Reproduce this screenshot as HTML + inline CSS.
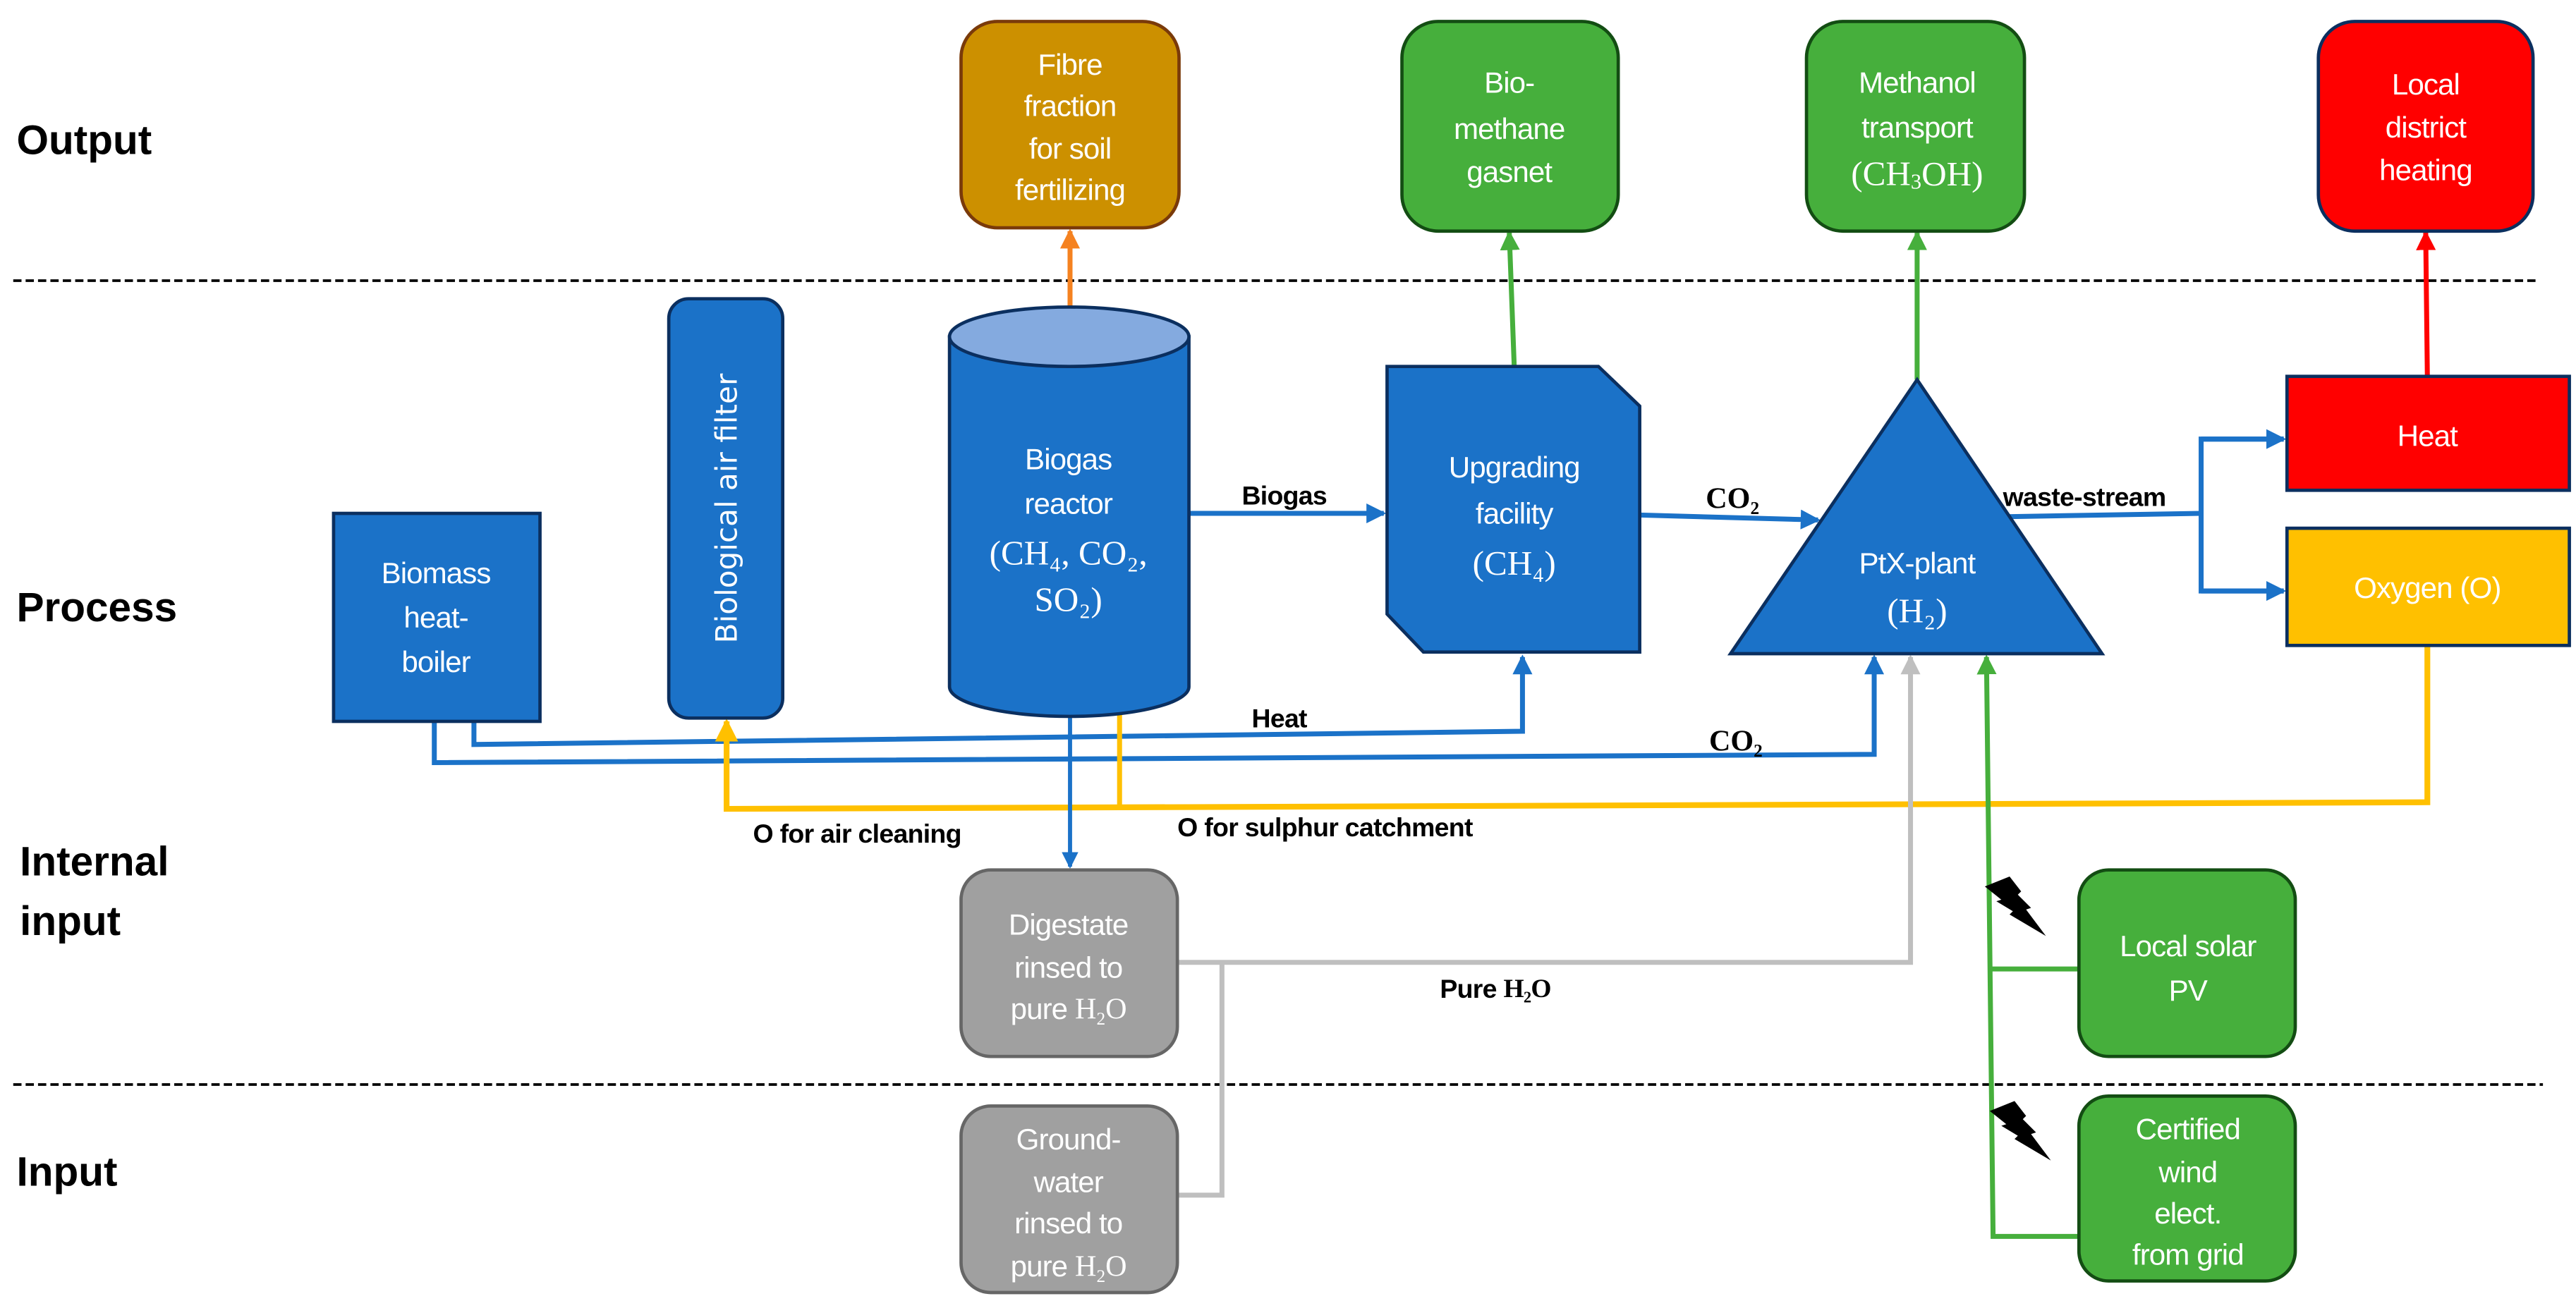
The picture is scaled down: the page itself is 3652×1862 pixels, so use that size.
<!DOCTYPE html>
<html><head><meta charset="utf-8"><style>
html,body{margin:0;padding:0;background:#fff;}
svg{display:block;}
.t{font-family:"Liberation Sans",sans-serif;fill:#fff;font-size:18px;text-anchor:middle;dominant-baseline:central;letter-spacing:-0.4px}
.s{font-family:"Liberation Serif",serif;fill:#fff;font-size:21px;text-anchor:middle;dominant-baseline:central}
.lab{font-family:"Liberation Sans",sans-serif;font-weight:bold;font-size:25px;fill:#000;dominant-baseline:central}
.cl{font-family:"Liberation Sans",sans-serif;font-weight:bold;font-size:16px;fill:#000;dominant-baseline:central;letter-spacing:-0.3px}
.cs{font-family:"Liberation Serif",serif;font-weight:bold;font-size:18px;fill:#000;dominant-baseline:central}
</style></head><body>
<svg width="3652" height="1862" viewBox="0 0 1560 795.4" xmlns="http://www.w3.org/2000/svg">
<defs>
<marker id="ab" markerWidth="4" markerHeight="4" refX="3.5" refY="2" orient="auto" markerUnits="strokeWidth"><path d="M0,0 L4,2 L0,4 z" fill="#1B72C8"/></marker>
<marker id="ay" markerWidth="4" markerHeight="4" refX="3.5" refY="2" orient="auto" markerUnits="strokeWidth"><path d="M0,0 L4,2 L0,4 z" fill="#FFC000"/></marker>
<marker id="ag" markerWidth="4" markerHeight="4" refX="3.5" refY="2" orient="auto" markerUnits="strokeWidth"><path d="M0,0 L4,2 L0,4 z" fill="#46AF3C"/></marker>
<marker id="ao" markerWidth="4" markerHeight="4" refX="3.5" refY="2" orient="auto" markerUnits="strokeWidth"><path d="M0,0 L4,2 L0,4 z" fill="#F58220"/></marker>
<marker id="ar" markerWidth="4" markerHeight="4" refX="3.5" refY="2" orient="auto" markerUnits="strokeWidth"><path d="M0,0 L4,2 L0,4 z" fill="#FF0000"/></marker>
<marker id="agr" markerWidth="4" markerHeight="4" refX="3.5" refY="2" orient="auto" markerUnits="strokeWidth"><path d="M0,0 L4,2 L0,4 z" fill="#BFBFBF"/></marker>
</defs>

<!-- dashed separators -->
<line x1="8" y1="170" x2="1538" y2="170" stroke="#000" stroke-width="1.6" stroke-dasharray="5,2.5"/>
<line x1="8" y1="657" x2="1540" y2="657" stroke="#000" stroke-width="1.6" stroke-dasharray="5,2.5"/>

<!-- row labels -->
<text class="lab" x="10" y="85">Output</text>
<text class="lab" x="10" y="368">Process</text>
<text class="lab" x="12" y="522">Internal</text>
<text class="lab" x="12" y="558">input</text>
<text class="lab" x="10" y="710">Input</text>

<!-- connectors -->
<line x1="648" y1="188" x2="648" y2="140" stroke="#F58220" stroke-width="3" marker-end="url(#ao)"/>
<line x1="917" y1="222" x2="914" y2="141" stroke="#46AF3C" stroke-width="3" marker-end="url(#ag)"/>
<line x1="1161" y1="230" x2="1161" y2="141" stroke="#46AF3C" stroke-width="3" marker-end="url(#ag)"/>
<line x1="1470" y1="228" x2="1469" y2="141" stroke="#FF0000" stroke-width="3" marker-end="url(#ar)"/>

<line x1="720" y1="311" x2="838" y2="311" stroke="#1B72C8" stroke-width="3" marker-end="url(#ab)"/>
<line x1="993" y1="312" x2="1101" y2="315" stroke="#1B72C8" stroke-width="3" marker-end="url(#ab)"/>
<polyline points="1215,313 1333,311" fill="none" stroke="#1B72C8" stroke-width="3"/>
<polyline points="1383,266 1333,266 1333,358 1383,358" fill="none" stroke="#1B72C8" stroke-width="3"/>
<line x1="1333" y1="266" x2="1383" y2="266" stroke="#1B72C8" stroke-width="3" marker-end="url(#ab)"/>
<line x1="1333" y1="358" x2="1383" y2="358" stroke="#1B72C8" stroke-width="3" marker-end="url(#ab)"/>

<polyline points="287,437 287,451 922,443 922,398" fill="none" stroke="#1B72C8" stroke-width="3" marker-end="url(#ab)"/>
<polyline points="263,437 263,462 1135,457 1135,398" fill="none" stroke="#1B72C8" stroke-width="3" marker-end="url(#ab)"/>

<polyline points="1470,391 1470,486 440,490 440,437" fill="none" stroke="#FFC000" stroke-width="3.5" marker-end="url(#ay)"/>
<line x1="678" y1="489" x2="678" y2="422" stroke="#FFC000" stroke-width="3" marker-end="url(#ay)"/>

<line x1="648" y1="433" x2="648" y2="525" stroke="#1B72C8" stroke-width="2.5" marker-end="url(#ab)"/>

<polyline points="713,583 1157,583 1157,398" fill="none" stroke="#BFBFBF" stroke-width="3" marker-end="url(#agr)"/>
<polyline points="740,583 740,724 713,724" fill="none" stroke="#BFBFBF" stroke-width="3"/>

<polyline points="1259,749 1207,749 1203,398" fill="none" stroke="#46AF3C" stroke-width="3" marker-end="url(#ag)"/>
<line x1="1205" y1="587" x2="1259" y2="587" stroke="#46AF3C" stroke-width="3"/>

<!-- lightning -->
<polygon points="1202,537 1217,531 1224,540 1222,542 1230,550 1227,551 1239,567 1217,554 1219,552 1209,546 1212,545" fill="#000"/>
<polygon points="1205,673 1220,667 1227,676 1225,678 1233,686 1230,687 1242,703 1220,690 1222,688 1212,682 1215,681" fill="#000"/>

<!-- connector labels -->
<text class="cl" x="752" y="300">Biogas</text>
<text class="cs" x="1033" y="302">CO₂</text>
<text class="cl" x="1213" y="301">waste-stream</text>
<text class="cl" x="758" y="435">Heat</text>
<text class="cs" x="1035" y="449">CO₂</text>
<text class="cl" x="456" y="505">O for air cleaning</text>
<text class="cl" x="713" y="501">O for sulphur catchment</text>
<text class="cl" x="872" y="599">Pure <tspan font-family="Liberation Serif">H₂O</tspan></text>

<!-- output boxes -->
<rect x="582" y="13" width="132" height="125" rx="22" fill="#CC9000" stroke="#7A3A0A" stroke-width="2"/>
<text class="t" x="648" y="39">Fibre</text><text class="t" x="648" y="64">fraction</text><text class="t" x="648" y="90">for soil</text><text class="t" x="648" y="115">fertilizing</text>

<rect x="849" y="13" width="131" height="127" rx="22" fill="#46AF3C" stroke="#134D13" stroke-width="2"/>
<text class="t" x="914" y="50">Bio-</text><text class="t" x="914" y="78">methane</text><text class="t" x="914" y="104">gasnet</text>

<rect x="1094" y="13" width="132" height="127" rx="22" fill="#46AF3C" stroke="#134D13" stroke-width="2"/>
<text class="t" x="1161" y="50">Methanol</text><text class="t" x="1161" y="77">transport</text>
<text class="s" x="1161" y="105">(CH<tspan font-size="13" dy="5">3</tspan><tspan dy="-5">OH)</tspan></text>

<rect x="1404" y="13" width="130" height="127" rx="22" fill="#FF0000" stroke="#0B2F5F" stroke-width="2"/>
<text class="t" x="1469" y="51">Local</text><text class="t" x="1469" y="77">district</text><text class="t" x="1469" y="103">heating</text>

<!-- process -->
<rect x="202" y="311" width="125" height="126" fill="#1B72C8" stroke="#0B2F5F" stroke-width="2"/>
<text class="t" x="264" y="347">Biomass</text><text class="t" x="264" y="374">heat-</text><text class="t" x="264" y="401">boiler</text>

<rect x="405" y="181" width="69" height="254" rx="12" fill="#1B72C8" stroke="#0B2F5F" stroke-width="2"/>
<text x="440" y="308" transform="rotate(-90 440 308)" font-family="DejaVu Sans,sans-serif" font-size="18" fill="#fff" text-anchor="middle" dominant-baseline="central">Biological air filter</text>

<path d="M575,204 L575,416 A72.5,18 0 0 0 720,416 L720,204 Z" fill="#1B72C8" stroke="#0B2F5F" stroke-width="2"/>
<ellipse cx="647.5" cy="204" rx="72.5" ry="18" fill="#84AADF" stroke="#0B2F5F" stroke-width="2"/>
<text class="t" x="647" y="278">Biogas</text><text class="t" x="647" y="305">reactor</text>
<text class="s" x="647" y="335">(CH₄, CO₂,</text><text class="s" x="647" y="363">SO₂)</text>

<polygon points="840,222 968,222 993,246 993,395 862,395 840,372" fill="#1B72C8" stroke="#0B2F5F" stroke-width="2"/>
<text class="t" x="917" y="283">Upgrading</text><text class="t" x="917" y="311">facility</text><text class="s" x="917" y="341">(CH₄)</text>

<polygon points="1161,230 1273,396 1048,396" fill="#1B72C8" stroke="#0B2F5F" stroke-width="2"/>
<text class="t" x="1161" y="341">PtX-plant</text><text class="s" x="1161" y="370">(H₂)</text>

<rect x="1385" y="228" width="171" height="69" fill="#FF0000" stroke="#0B2F5F" stroke-width="2"/>
<text class="t" x="1470" y="264">Heat</text>
<rect x="1385" y="320" width="171" height="71" fill="#FFC000" stroke="#0B2F5F" stroke-width="2"/>
<text class="t" x="1470" y="356">Oxygen (O)</text>

<!-- inputs -->
<rect x="582" y="527" width="131" height="113" rx="18" fill="#A0A0A0" stroke="#666" stroke-width="2"/>
<text class="t" x="647" y="560">Digestate</text><text class="t" x="647" y="586">rinsed to</text>
<text class="t" x="647" y="611">pure <tspan font-family="Liberation Serif">H₂O</tspan></text>

<rect x="582" y="670" width="131" height="113" rx="18" fill="#A0A0A0" stroke="#666" stroke-width="2"/>
<text class="t" x="647" y="690">Ground-</text><text class="t" x="647" y="716">water</text><text class="t" x="647" y="741">rinsed to</text>
<text class="t" x="647" y="767">pure <tspan font-family="Liberation Serif">H₂O</tspan></text>

<rect x="1259" y="527" width="131" height="113" rx="18" fill="#46AF3C" stroke="#134D13" stroke-width="2"/>
<text class="t" x="1325" y="573">Local solar</text><text class="t" x="1325" y="600">PV</text>

<rect x="1259" y="664" width="131" height="112" rx="18" fill="#46AF3C" stroke="#134D13" stroke-width="2"/>
<text class="t" x="1325" y="684">Certified</text><text class="t" x="1325" y="710">wind</text><text class="t" x="1325" y="735">elect.</text><text class="t" x="1325" y="760">from grid</text>
</svg>
</body></html>
